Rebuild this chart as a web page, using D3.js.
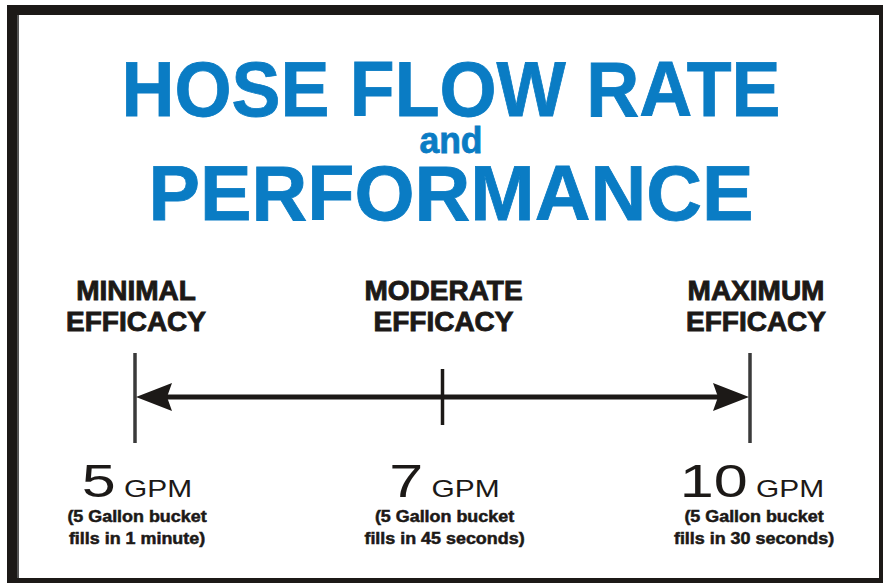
<!DOCTYPE html>
<html>
<head>
<meta charset="utf-8">
<script src="https://cdn.jsdelivr.net/npm/d3@7"></script>
<style>
  body { margin: 0; background: #fff; }
  svg { display: block; }
  text { font-family: "Liberation Sans", Arial, sans-serif; }
</style>
</head>
<body>
<svg id="chart"></svg>
<script>
// chart data
const titleLines = ["HOSE FLOW RATE", "and", "PERFORMANCE"];
const flowRates = ["5", "7", "10"];
const flowUnit = "GPM";
const efficacyLabels = [
  ["MINIMAL", "EFFICACY"],
  ["MODERATE", "EFFICACY"],
  ["MAXIMUM", "EFFICACY"]
];
const fillNotes = [
  ["(5 Gallon bucket", "fills in 1 minute)"],
  ["(5 Gallon bucket", "fills in 45 seconds)"],
  ["(5 Gallon bucket", "fills in 30 seconds)"]
];

const width = 883, height = 583;
const blue = "#0a7cc4";
const ink = "#1c1917";

const svg = d3.select("#chart")
  .attr("width", width)
  .attr("height", height);

// frame
const frame = svg.append("g").attr("fill", ink);
frame.append("rect").attr("x", 7).attr("y", 5).attr("width", width - 7).attr("height", 10);
frame.append("rect").attr("x", 7).attr("y", 5).attr("width", 10).attr("height", height - 5);
frame.append("rect").attr("x", 17).attr("y", 15).attr("width", 2).attr("height", height - 15).attr("fill", "#555");
frame.append("rect").attr("x", 879).attr("y", 5).attr("width", 4).attr("height", height - 5);
frame.append("rect").attr("x", 7).attr("y", 578).attr("width", width - 7).attr("height", 5);

// title
const titleStyle = [
  { y: 116, size: 77, len: 659 },
  { y: 153, size: 36, len: 63 },
  { y: 220, size: 77, len: 605 }
];
svg.append("g")
  .selectAll("text")
  .data(titleLines)
  .join("text")
  .attr("x", 451)
  .attr("y", (d, i) => titleStyle[i].y)
  .attr("text-anchor", "middle")
  .attr("font-weight", "bold")
  .attr("font-size", (d, i) => titleStyle[i].size)
  .attr("textLength", (d, i) => titleStyle[i].len)
  .attr("lengthAdjust", "spacingAndGlyphs")
  .attr("fill", blue)
  .attr("stroke", blue)
  .attr("stroke-width", 0.8)
  .text(d => d);

// scale for the three flow rates
const x = d3.scalePoint()
  .domain(flowRates)
  .range([135, 750]);

const axisY = 397;

// axis line
svg.append("line")
  .attr("x1", x(flowRates[0]) + 25)
  .attr("x2", x(flowRates[flowRates.length - 1]) - 25)
  .attr("y1", axisY)
  .attr("y2", axisY)
  .attr("stroke", ink)
  .attr("stroke-width", 5);

// ticks
svg.append("g")
  .selectAll("line")
  .data(flowRates)
  .join("line")
  .attr("x1", d => x(d))
  .attr("x2", d => x(d))
  .attr("y1", (d, i) => (i === 1 ? 369 : 353))
  .attr("y2", (d, i) => (i === 1 ? 425 : 443))
  .attr("stroke", (d, i) => (i === 1 ? ink : "#3a3a3a"))
  .attr("stroke-width", 3.5);

// arrowheads
const arrowHead = (tipX, dir) => {
  const p = d3.path();
  p.moveTo(tipX, axisY);
  p.lineTo(tipX + dir * 36, axisY - 14);
  p.lineTo(tipX + dir * 31, axisY);
  p.lineTo(tipX + dir * 36, axisY + 14);
  p.closePath();
  return p.toString();
};
svg.append("path").attr("d", arrowHead(x(flowRates[0]) + 1, 1)).attr("fill", ink);
svg.append("path").attr("d", arrowHead(x(flowRates[2]) - 1, -1)).attr("fill", ink);

// efficacy labels above
svg.append("g")
  .selectAll("text")
  .data(efficacyLabels)
  .join("text")
  .attr("transform", (d, i) => `translate(${x(flowRates[i]) + (i === 2 ? 6 : 1)},0)`)
  .attr("text-anchor", "middle")
  .attr("font-weight", "bold")
  .attr("font-size", 28)
  .attr("fill", ink)
  .attr("stroke", ink)
  .attr("stroke-width", 0.9)
  .selectAll("tspan")
  .data(d => d)
  .join("tspan")
  .attr("x", 0)
  .attr("y", (d, i) => (i === 0 ? 300 : 331))
  .text(d => d);

// flow rate values below
const valueText = svg.append("g")
  .selectAll("text")
  .data(flowRates)
  .join("text")
  .attr("transform", (d, i) => `translate(${x(d) + 2},497) scale(1.3,1)`)
  .attr("text-anchor", "middle")
  .attr("fill", ink);
valueText.append("tspan").attr("font-size", 47).text(d => d);
valueText.append("tspan").attr("font-size", 23).text(" " + flowUnit);

// fill notes
svg.append("g")
  .selectAll("text")
  .data(fillNotes)
  .join("text")
  .attr("transform", (d, i) => `translate(${x(flowRates[i]) + (i === 2 ? 4 : 2)},0) scale(1.12,1)`)
  .attr("text-anchor", "middle")
  .attr("font-weight", "bold")
  .attr("font-size", 16)
  .attr("fill", ink)
  .attr("stroke", ink)
  .attr("stroke-width", 0.5)
  .selectAll("tspan")
  .data(d => d)
  .join("tspan")
  .attr("x", 0)
  .attr("y", (d, i) => (i === 0 ? 522 : 544))
  .text(d => d);
</script>
</body>
</html>
